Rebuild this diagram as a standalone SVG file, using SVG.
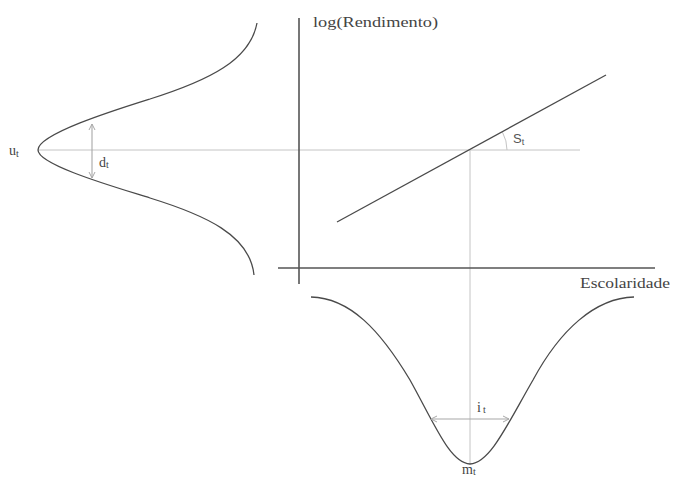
<svg xmlns="http://www.w3.org/2000/svg" width="675" height="479" viewBox="0 0 675 479">
<style>
.curve{fill:none;stroke:#4a4a4a;stroke-width:1.3}
.axis{fill:none;stroke:#555;stroke-width:1.6}
.guide{fill:none;stroke:#c4c4c4;stroke-width:1}
.arr{fill:none;stroke:#a8a8a8;stroke-width:1.1}
.lbl{font-family:"Liberation Serif",serif;fill:#444;font-size:14px}
.sub{font-family:"Liberation Serif",serif;fill:#444;font-size:10px}
.sans{font-family:"Liberation Sans",sans-serif;fill:#555;font-size:13px}
</style>
<defs>
<marker id="ah" markerWidth="8" markerHeight="8" refX="7" refY="4" orient="auto-start-reverse" markerUnits="userSpaceOnUse">
<path d="M1,1 L7,4 L1,7" fill="none" stroke="#a8a8a8" stroke-width="1"/>
</marker>
</defs>
<rect width="675" height="479" fill="#fff"/>
<g id="guides">
<line class="guide" x1="38" y1="150" x2="580" y2="150"/>
<line class="guide" x1="470" y1="150" x2="470" y2="464"/>
<path class="guide" d="M507,150 A37,37 0 0 0 502.5,132.3"/>
</g>
<g id="axes">
<line class="axis" x1="299" y1="18" x2="299" y2="284"/>
<line class="axis" x1="278" y1="268" x2="655" y2="268"/>
</g>
<g id="left-curve">
<path class="curve" d="M257,23 C250,60 210,80 150,99 C115,110 38,134 38,150 C38,165 115,187 150,198 C205,215 250,235 254,275"/>
</g>
<g id="bottom-curve">
<path class="curve" d="M311,297 C350,298 380,330 410,380 C435,425 450,463 470,464 C490,463 507,425 533,380 C560,330 595,298 634,297"/>
</g>
<g id="regression">
<line class="curve" x1="337" y1="222" x2="606" y2="75"/>
</g>
<g id="connectors">
<line class="arr" x1="92" y1="124" x2="92" y2="178" marker-start="url(#ah)" marker-end="url(#ah)"/>
<line class="arr" x1="431" y1="419" x2="509" y2="419" marker-start="url(#ah)" marker-end="url(#ah)"/>
</g>
<g id="labels">
<text class="lbl" x="313" y="27" textLength="125" lengthAdjust="spacingAndGlyphs">log(Rendimento)</text>
<text class="lbl" x="580" y="288" textLength="90" lengthAdjust="spacingAndGlyphs">Escolaridade</text>
<text class="lbl" x="9" y="155" font-size="15">u<tspan class="sub" dy="2">t</tspan></text>
<text class="lbl" x="99" y="167">d<tspan class="sub" dy="1">t</tspan></text>
<text class="sans" x="513" y="143">S<tspan font-size="9" dy="2">t</tspan></text>
<text class="lbl" x="477" y="412">i<tspan class="sub" dx="2" dy="1">t</tspan></text>
<text class="lbl" x="462" y="474">m<tspan class="sub" dy="1">t</tspan></text>
</g>
</svg>
